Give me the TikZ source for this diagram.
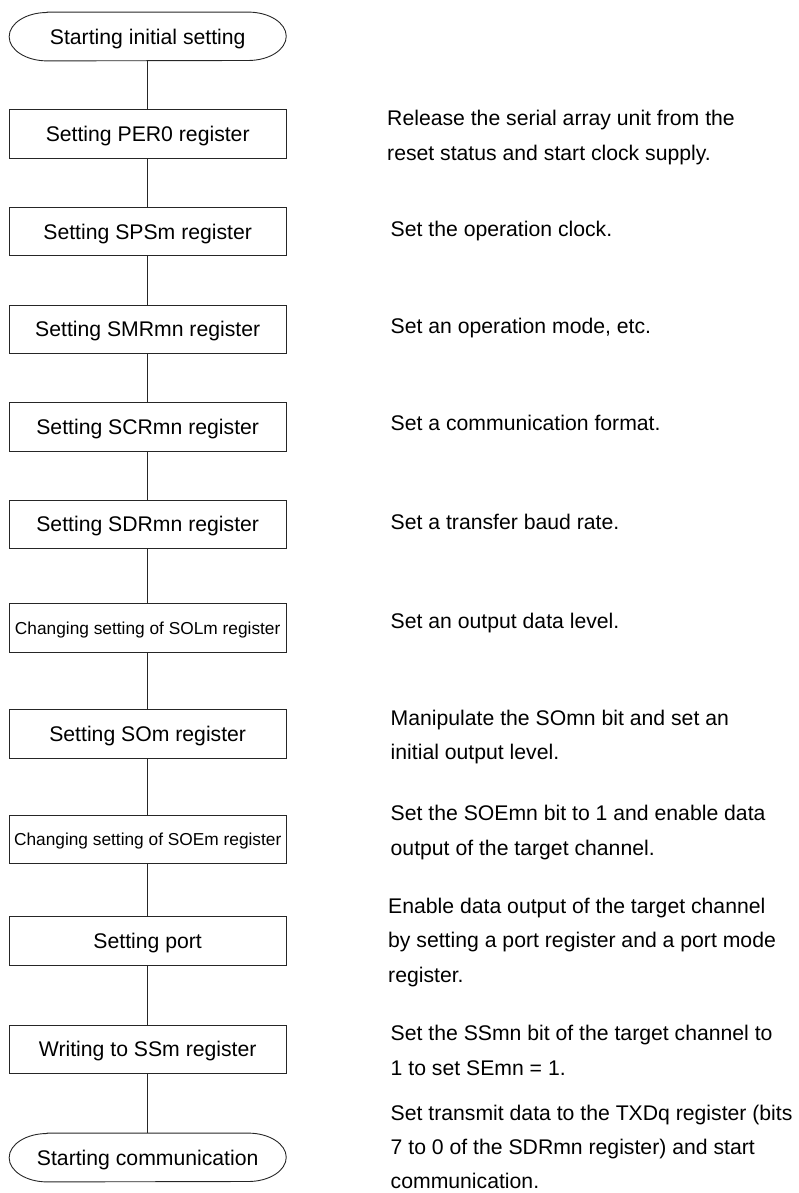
\documentclass[tikz,border=0pt]{standalone}
\usepackage{fontspec}
\setmainfont{Liberation Sans}
\tikzset{
  x=1pt, y=1pt,
  link/.style={line width=0.9pt, draw=black!85},
  stepbox/.style={draw=black!85, line width=0.9pt, minimum width=276.7pt, minimum height=48.4pt,
    inner sep=0pt, text height=15.2pt, text depth=0pt, font=\fontsize{21.2}{25}\selectfont},
  smallbox/.style={stepbox, text height=12.4pt, font=\fontsize{17.3}{21}\selectfont},
  termbox/.style={minimum width=276.7pt, minimum height=48.4pt, inner sep=0pt,
    text height=15.2pt, text depth=0pt, font=\fontsize{21.2}{25}\selectfont},
  desc/.style={anchor=base west, inner sep=0pt, font=\fontsize{21.2}{34.5}\selectfont},
  tightdesc/.style={desc, font=\fontsize{21.2}{34}\selectfont}
}
\newcommand\stadium[1]{%
  \draw[link] ([xshift=38pt]#1.north west) -- ([xshift=-38pt]#1.north east)
    arc[start angle=90, end angle=-90, x radius=38pt, y radius=24.2pt]
    -- ([xshift=38pt]#1.south west)
    arc[start angle=270, end angle=90, x radius=38pt, y radius=24.2pt] -- cycle;}
\begin{document}
\begin{tikzpicture}
\useasboundingbox (0,0) rectangle (799,-1193);
% flow nodes
\node[termbox] (t0) at (147.7,-36.5) {Starting initial setting};
\stadium{t0}
\node[stepbox] (b1) at (147.7,-133.9) {Setting PER0 register};
\node[stepbox] (b2) at (147.7,-231.7) {Setting SPSm register};
\node[stepbox] (b3) at (147.7,-329.2) {Setting SMRmn register};
\node[stepbox] (b4) at (147.7,-426.9) {Setting SCRmn register};
\node[stepbox] (b5) at (147.7,-524.2) {Setting SDRmn register};
\node[smallbox] (b6) at (147.7,-627.8) {Changing setting of SOLm register};
\node[stepbox] (b7) at (147.7,-734.0) {Setting SOm register};
\node[smallbox] (b8) at (147.7,-839.2) {Changing setting of SOEm register};
\node[stepbox] (b9) at (147.7,-941.0) {Setting port};
\node[stepbox] (b10) at (147.7,-1049.2) {Writing to SSm register};
\node[termbox] (t1) at (147.7,-1157.5) {Starting communication};
\stadium{t1}
% connectors
\draw[link] (t0.south) -- (b1.north);
\draw[link] (b1.south) -- (b2.north);
\draw[link] (b2.south) -- (b3.north);
\draw[link] (b3.south) -- (b4.north);
\draw[link] (b4.south) -- (b5.north);
\draw[link] (b5.south) -- (b6.north);
\draw[link] (b6.south) -- (b7.north);
\draw[link] (b7.south) -- (b8.north);
\draw[link] (b8.south) -- (b9.north);
\draw[link] (b9.south) -- (b10.north);
\draw[link] (b10.south) -- (t1.north);
% descriptions
\node[desc] (d1) at (387,-125.7) {\vtop{\hbox{Release the serial array unit from the}\hbox{reset status and start clock supply.}}};
\node[desc] (d2) at (390.5,-236) {Set the operation clock.};
\node[desc] (d3) at (390.5,-333.3) {Set an operation mode, etc.};
\node[desc] (d4) at (390.5,-430.7) {Set a communication format.};
\node[desc] (d5) at (390.5,-529.3) {Set a transfer baud rate.};
\node[desc] (d6) at (390.5,-628.7) {Set an output data level.};
\node[desc] (d7) at (390.5,-725) {\vtop{\hbox{Manipulate the SOmn bit and set an}\hbox{initial output level.}}};
\node[desc] (d8) at (390.5,-820.7) {\vtop{\hbox{Set the SOEmn bit to 1 and enable data}\hbox{output of the target channel.}}};
\node[desc] (d9) at (388,-913.3) {\vtop{\hbox{Enable data output of the target channel}\hbox{by setting a port register and a port mode}\hbox{register.}}};
\node[desc] (d10) at (390.5,-1040.7) {\vtop{\hbox{Set the SSmn bit of the target channel to}\hbox{1 to set SEmn = 1.}}};
\node[tightdesc] (d11) at (390.5,-1120.5) {\vtop{\hbox{Set transmit data to the TXDq register (bits}\hbox{7 to 0 of the SDRmn register) and start}\hbox{communication.}}};
\end{tikzpicture}
\end{document}
